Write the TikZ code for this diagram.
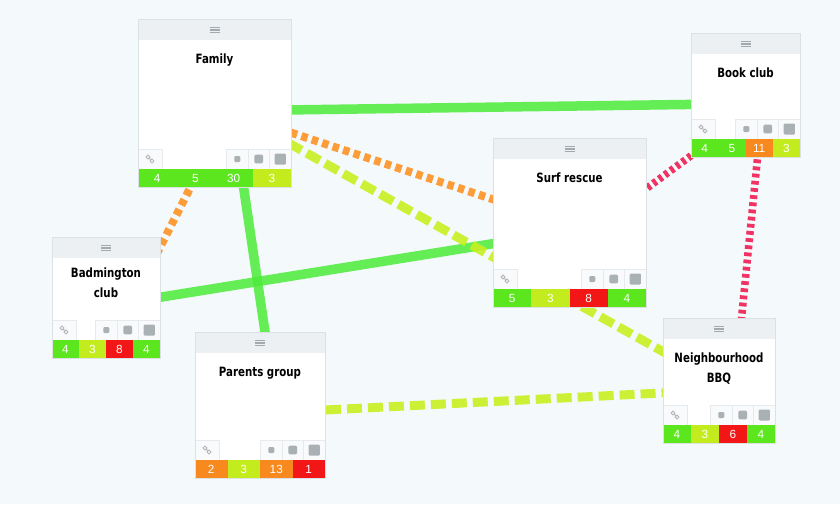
\documentclass[tikz,border=0pt]{standalone}
\usepackage{fontspec}
\setmainfont{Liberation Sans}
\newfontfamily\titlefont{DejaVu Sans}[FakeStretch=0.8]
\usetikzlibrary{fit,calc}

\definecolor{bgc}{HTML}{F4F9FC}
\definecolor{cardedge}{HTML}{DCE1E4}
\definecolor{headc}{HTML}{EDF0F2}
\definecolor{burgerc}{HTML}{A3AAAE}
\definecolor{cellc}{HTML}{E6EAEC}
\definecolor{cellfill}{HTML}{F9FAFB}
\definecolor{sqc}{HTML}{A9B1B4}
\definecolor{linkc}{HTML}{B3B8BB}
\definecolor{gbar}{HTML}{5CE61E}
\definecolor{lbar}{HTML}{C3EC1E}
\definecolor{obar}{HTML}{F7891E}
\definecolor{rbar}{HTML}{F21616}
\definecolor{lgreen}{HTML}{4DEB3A}
\definecolor{lorange}{HTML}{FF9326}
\definecolor{llime}{HTML}{C8F021}
\definecolor{lpink}{HTML}{F01E52}

\pgfdeclarelayer{bg}
\pgfdeclarelayer{links}
\pgfsetlayers{bg,links,main}

\tikzset{
  cardshape/.style={fill=white, inner sep=0pt, outer sep=0pt},
  cardline/.style={draw=cardedge, line width=0.6pt},
  headband/.style={fill=headc},
  burger/.style={draw=burgerc, line width=1.1pt},
  cellbox/.style={draw=cellc, fill=cellfill, line width=0.6pt},
  sq/.style={fill=sqc, rounded corners=1.2pt},
  linkicon/.style={draw=linkc, line width=0.9pt},
  titletext/.style={font=\titlefont\bfseries\fontsize{12.8}{20}\selectfont,
    align=center, inner sep=0pt, anchor=north},
  numtext/.style={font=\fontsize{11.8}{12}\selectfont, text=white, inner sep=0pt},
  solidlink/.style={draw=lgreen, line width=9.5pt, draw opacity=0.85},
  orangelink/.style={draw=lorange, line width=8pt, dash pattern=on 6.5pt off 4.5pt, draw opacity=0.9},
  limelink/.style={draw=llime, line width=9pt, dash pattern=on 15pt off 6pt, draw opacity=0.9},
  pinklink/.style={draw=lpink, line width=7.5pt, dash pattern=on 3.8pt off 3.4pt, draw opacity=0.9},
}

% #1 title offset, #2 name, #3 left, #4 top, #5 right, #6 bottom, #7 title, #8 bar list
\newcommand\groupcard[8][34.5]{%
  \node[cardshape, fit={(#3,#4) (#5,#6)}] (#2) {};
  \pgfmathsetmacro\gcx{(#3+#5)/2}
  \pgfmathsetmacro\gbw{(#5-#3)/4}
  % header band with menu icon
  \fill[headband] (#3,#4) rectangle (#5,#4+21);
  \draw[burger] (\gcx-5,#4+8.3) -- (\gcx+5,#4+8.3)
                (\gcx-5,#4+11) -- (\gcx+5,#4+11)
                (\gcx-5,#4+13.7) -- (\gcx+5,#4+13.7);
  % title
  \node[titletext] (#2-title) at (\gcx,#4+#1) {#7};
  % tool row
  \draw[cellbox] (#3,#6-38) rectangle (#3+24,#6-18);
  \foreach \k in {1,2,3}{
    \draw[cellbox] (#5-\k*21.5,#6-38) rectangle (#5-\k*21.5+21.5,#6-18);
  }
  \draw[linkicon] (#3+10,#6-30) circle (1.9) (#3+14,#6-26) circle (1.9)
                  (#3+11.3,#6-28.7) -- (#3+12.7,#6-27.3);
  \fill[sq] (#5-2.5*21.5-3,#6-31) rectangle (#5-2.5*21.5+3,#6-25);
  \fill[sq] (#5-1.5*21.5-4.3,#6-32.3) rectangle (#5-1.5*21.5+4.3,#6-23.7);
  \fill[sq] (#5-0.5*21.5-5.7,#6-33.5) rectangle (#5-0.5*21.5+5.7,#6-22.5);
  % count bar
  \foreach \bc/\bn [count=\bi from 0] in {#8}{
    \fill[\bc] ({#3+\bi*\gbw},#6-18) rectangle ({#3+(\bi+1)*\gbw},#6);
    \node[numtext] (#2-n\bi) at ({#3+(\bi+0.5)*\gbw},#6-9) {\bn};
  }
  \draw[cardline] (#2.north west) rectangle (#2.south east);
}

\begin{document}
\begin{tikzpicture}[x=1pt,y=-1pt]
\begin{pgfonlayer}{bg}
  \fill[bgc] (0,0) rectangle (840,504);
\end{pgfonlayer}
\useasboundingbox (0,0) rectangle (840,504);

% group cards
\groupcard{family}{138}{19}{291}{187}{Family}{gbar/4,gbar/5,gbar/30,lbar/3}
\groupcard{book}{691}{33}{800}{157}{Book club}{gbar/4,gbar/5,obar/11,lbar/3}
\groupcard{surf}{493}{138}{646}{307}{Surf rescue}{gbar/5,lbar/3,rbar/8,gbar/4}
\groupcard[30.5]{badm}{52}{237}{160}{358}{Badmington\\club}{gbar/4,lbar/3,rbar/8,gbar/4}
\groupcard{parents}{195}{332}{325}{478}{Parents group}{obar/2,lbar/3,obar/13,rbar/1}
\groupcard{bbq}{663}{318}{775}{443}{Neighbourhood\\BBQ}{gbar/4,lbar/3,rbar/6,gbar/4}

% connections, drawn beneath the cards
\begin{pgfonlayer}{links}
  \coordinate (fam-book-a) at (270,110.2);  \coordinate (fam-book-b) at (715,104.1);
  \coordinate (fam-par-a)  at (241,170);    \coordinate (fam-par-b)  at (267.7,350);
  \coordinate (bad-surf-a) at (140,300.5);  \coordinate (bad-surf-b) at (515,240.1);
  \coordinate (fam-surf-a) at (270,125.7);  \coordinate (fam-surf-b) at (515,206.6);
  \coordinate (fam-bad-a)  at (199.2,170);  \coordinate (fam-bad-b)  at (152.6,262);
  \coordinate (fam-bbq-a)  at (270,132.7);  \coordinate (fam-bbq-b)  at (685,363.9);
  \coordinate (par-bbq-a)  at (305,411);    \coordinate (par-bbq-b)  at (685,391.8);
  \coordinate (surf-book-a) at (630,200.5); \coordinate (surf-book-b) at (710,141.8);
  \coordinate (book-bbq-a) at (758.8,145);  \coordinate (book-bbq-b) at (739.8,335);

  \draw[solidlink] (fam-book-a) -- (fam-book-b);
  \draw[solidlink] (fam-par-a) -- (fam-par-b);
  \draw[solidlink] (bad-surf-a) -- (bad-surf-b);
  \draw[orangelink] (fam-surf-a) -- (fam-surf-b);
  \draw[orangelink] (fam-bad-a) -- (fam-bad-b);
  \draw[limelink] (fam-bbq-a) -- (fam-bbq-b);
  \draw[limelink] (par-bbq-a) -- (par-bbq-b);
  \draw[pinklink] (surf-book-a) -- (surf-book-b);
  \draw[pinklink] (book-bbq-a) -- (book-bbq-b);
\end{pgfonlayer}
\end{tikzpicture}
\end{document}
